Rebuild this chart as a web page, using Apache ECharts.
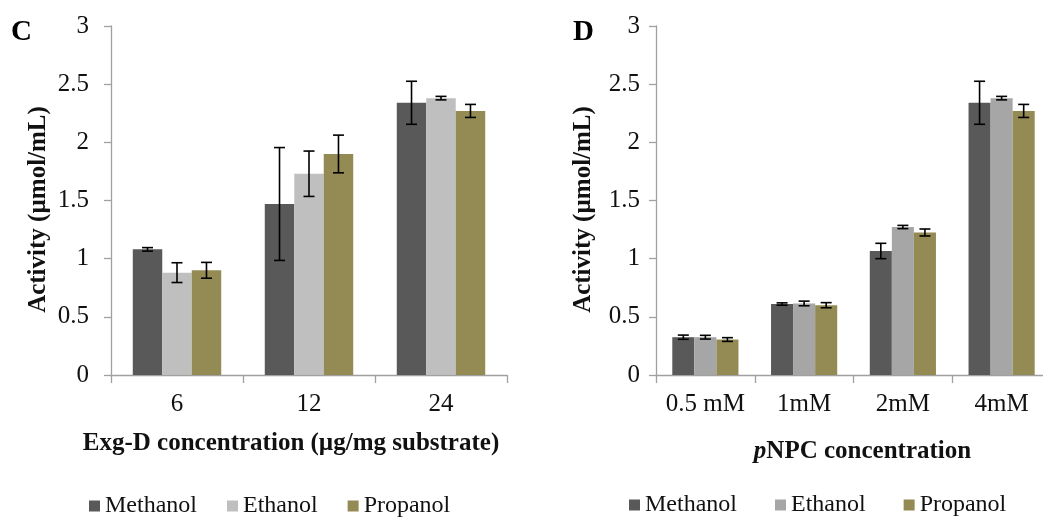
<!DOCTYPE html>
<html>
<head>
<meta charset="utf-8">
<script src="https://cdn.jsdelivr.net/npm/echarts@6/dist/echarts.min.js"></script>
<style>
html,body{margin:0;padding:0;background:#fff;}
#chart{width:1043px;height:519px;}
</style>
</head>
<body>
<div id="chart"></div>
<script>
// ---- Data ----
const seriesNames = ['Methanol', 'Ethanol', 'Propanol'];

// Panel C
const catsC = ['6', '12', '24'];
const methanolC = [1.08, 1.47, 2.34];
const ethanolC  = [0.88, 1.73, 2.38];
const propanolC = [0.90, 1.90, 2.27];
const methanolErrC = [0.015, 0.485, 0.185];
const ethanolErrC  = [0.085, 0.195, 0.015];
const propanolErrC = [0.068, 0.162, 0.056];

// Panel D
const catsD = ['0.5 mM', '1mM', '2mM', '4mM'];
const methanolD = [0.325, 0.610, 1.066, 2.34];
const ethanolD  = [0.325, 0.615, 1.272, 2.38];
const propanolD = [0.305, 0.600, 1.225, 2.27];
const methanolErrD = [0.018, 0.010, 0.066, 0.185];
const ethanolErrD  = [0.016, 0.020, 0.014, 0.015];
const propanolErrD = [0.016, 0.022, 0.030, 0.056];

const yTicks = [0, 0.5, 1, 1.5, 2, 2.5, 3];

// ---- Styles ----
const FONT = 'Liberation Serif';
const colMeth = '#595959';
const colEthC = '#BFBFBF';
const colEthD = '#A6A6A6';
const colProp = '#948A54';
const axisCol = '#A0A0A0';
const GAP = 0.33;

const chart = echarts.init(document.getElementById('chart'), null, {renderer: 'canvas'});

function barSeries(name, data, color, idx) {
  return {
    type: 'bar', name: name, data: data,
    xAxisIndex: idx, yAxisIndex: idx,
    barGap: '0%', barCategoryGap: (GAP * 100) + '%',
    itemStyle: {color: color},
    emphasis: {disabled: true},
    z: 2
  };
}

function errSeries(means, errs, k, idx) {
  return {
    type: 'custom', name: 'err',
    xAxisIndex: idx, yAxisIndex: idx,
    data: means.map((m, i) => [i, m - errs[i], m + errs[i]]),
    encode: {x: 0, y: [1, 2]},
    z: 5,
    silent: true,
    renderItem: function (params, api) {
      const cat = api.value(0);
      const lo = api.value(1), hi = api.value(2);
      const band = api.size([1, 0])[0];
      const bw = band * (1 - GAP) / 3;
      const pLo = api.coord([cat, lo]);
      const pHi = api.coord([cat, hi]);
      const cx = pLo[0] + (k - 1) * bw;
      const cap = 5.5;
      const st = {stroke: '#000', lineWidth: 1.6};
      return {
        type: 'group',
        children: [
          {type: 'line', shape: {x1: cx, y1: pLo[1], x2: cx, y2: pHi[1]}, style: st},
          {type: 'line', shape: {x1: cx - cap, y1: pLo[1], x2: cx + cap, y2: pLo[1]}, style: st},
          {type: 'line', shape: {x1: cx - cap, y1: pHi[1], x2: cx + cap, y2: pHi[1]}, style: st}
        ]
      };
    }
  };
}

function xAxisCfg(cats, idx, name, nameGap, padding, rich) {
  return {
    type: 'category', gridIndex: idx, data: cats,
    axisLine: {lineStyle: {color: axisCol, width: 1.3}},
    axisTick: {show: true, length: 8, lineStyle: {color: axisCol, width: 1.3}},
    axisLabel: {fontFamily: FONT, fontSize: 25, color: '#111', margin: 17, interval: 0},
    name: name, nameLocation: 'middle', nameGap: nameGap,
    nameTextStyle: Object.assign({fontFamily: FONT, fontSize: 25, fontWeight: 'bold', color: '#111', padding: padding}, rich ? {rich: rich} : {})
  };
}

function yAxisCfg(idx, margin) {
  return {
    type: 'value', gridIndex: idx, min: 0, max: 3, interval: 0.5,
    splitLine: {show: false},
    axisLine: {show: true, lineStyle: {color: axisCol, width: 1.3}},
    axisTick: {show: true, length: 7, lineStyle: {color: axisCol, width: 1.3}},
    axisLabel: {fontFamily: FONT, fontSize: 25, color: '#111', margin: margin,
      formatter: v => String(yTicks.find(t => Math.abs(t - v) < 1e-9) ?? v)},
    name: 'Activity (µmol/mL)', nameLocation: 'middle', nameGap: 60, nameRotate: 90,
    nameTextStyle: {fontFamily: FONT, fontSize: 25, fontWeight: 'bold', color: '#111', padding: [0, 18, 0, 0]}
  };
}

const legendText = {fontFamily: FONT, fontSize: 24, color: '#111'};

const option = {
  animation: false,
  backgroundColor: '#ffffff',
  grid: [
    {left: 111, top: 26, width: 396, height: 349, containLabel: false, outerBoundsMode: 'none'},
    {left: 656, top: 26, width: 395, height: 349, containLabel: false, outerBoundsMode: 'none'}
  ],
  xAxis: [
    xAxisCfg(catsC, 0, 'Exg-D concentration (µg/mg substrate)', 56, [0, 36, 0, 0]),
    xAxisCfg(catsD, 1, '{i|p}NPC concentration', 64, [0, 0, 0, 18], {
      i: {fontFamily: FONT, fontSize: 25, fontWeight: 'bold', fontStyle: 'italic', color: '#111'}
    })
  ],
  yAxis: [yAxisCfg(0, 22), yAxisCfg(1, 16)],
  legend: [
    {
      left: 84, top: 489, itemWidth: 11, itemHeight: 11, itemGap: 30, icon: 'rect',
      selectedMode: false, textStyle: legendText,
      data: [
        {name: 'Methanol', itemStyle: {color: colMeth}},
        {name: 'Ethanol', itemStyle: {color: colEthC}},
        {name: 'Propanol', itemStyle: {color: colProp}}
      ]
    },
    {
      left: 624, top: 488, itemWidth: 11, itemHeight: 11, itemGap: 38, icon: 'rect',
      selectedMode: false, textStyle: legendText,
      data: [
        {name: 'Methanol', itemStyle: {color: colMeth}},
        {name: 'Ethanol', itemStyle: {color: colEthD}},
        {name: 'Propanol', itemStyle: {color: colProp}}
      ]
    }
  ],
  graphic: [
    {type: 'text', left: 11, top: 18, style: {text: 'C', fontFamily: FONT, fontSize: 29, fontWeight: 'bold', fill: '#000'}},
    {type: 'text', left: 573, top: 18, style: {text: 'D', fontFamily: FONT, fontSize: 29, fontWeight: 'bold', fill: '#000'}}
  ],
  series: [
    barSeries(seriesNames[0], methanolC, colMeth, 0),
    barSeries(seriesNames[1], ethanolC, colEthC, 0),
    barSeries(seriesNames[2], propanolC, colProp, 0),
    barSeries(seriesNames[0], methanolD, colMeth, 1),
    barSeries(seriesNames[1], ethanolD, colEthD, 1),
    barSeries(seriesNames[2], propanolD, colProp, 1),
    errSeries(methanolC, methanolErrC, 0, 0),
    errSeries(ethanolC, ethanolErrC, 1, 0),
    errSeries(propanolC, propanolErrC, 2, 0),
    errSeries(methanolD, methanolErrD, 0, 1),
    errSeries(ethanolD, ethanolErrD, 1, 1),
    errSeries(propanolD, propanolErrD, 2, 1)
  ]
};

chart.setOption(option);
</script>
</body>
</html>
